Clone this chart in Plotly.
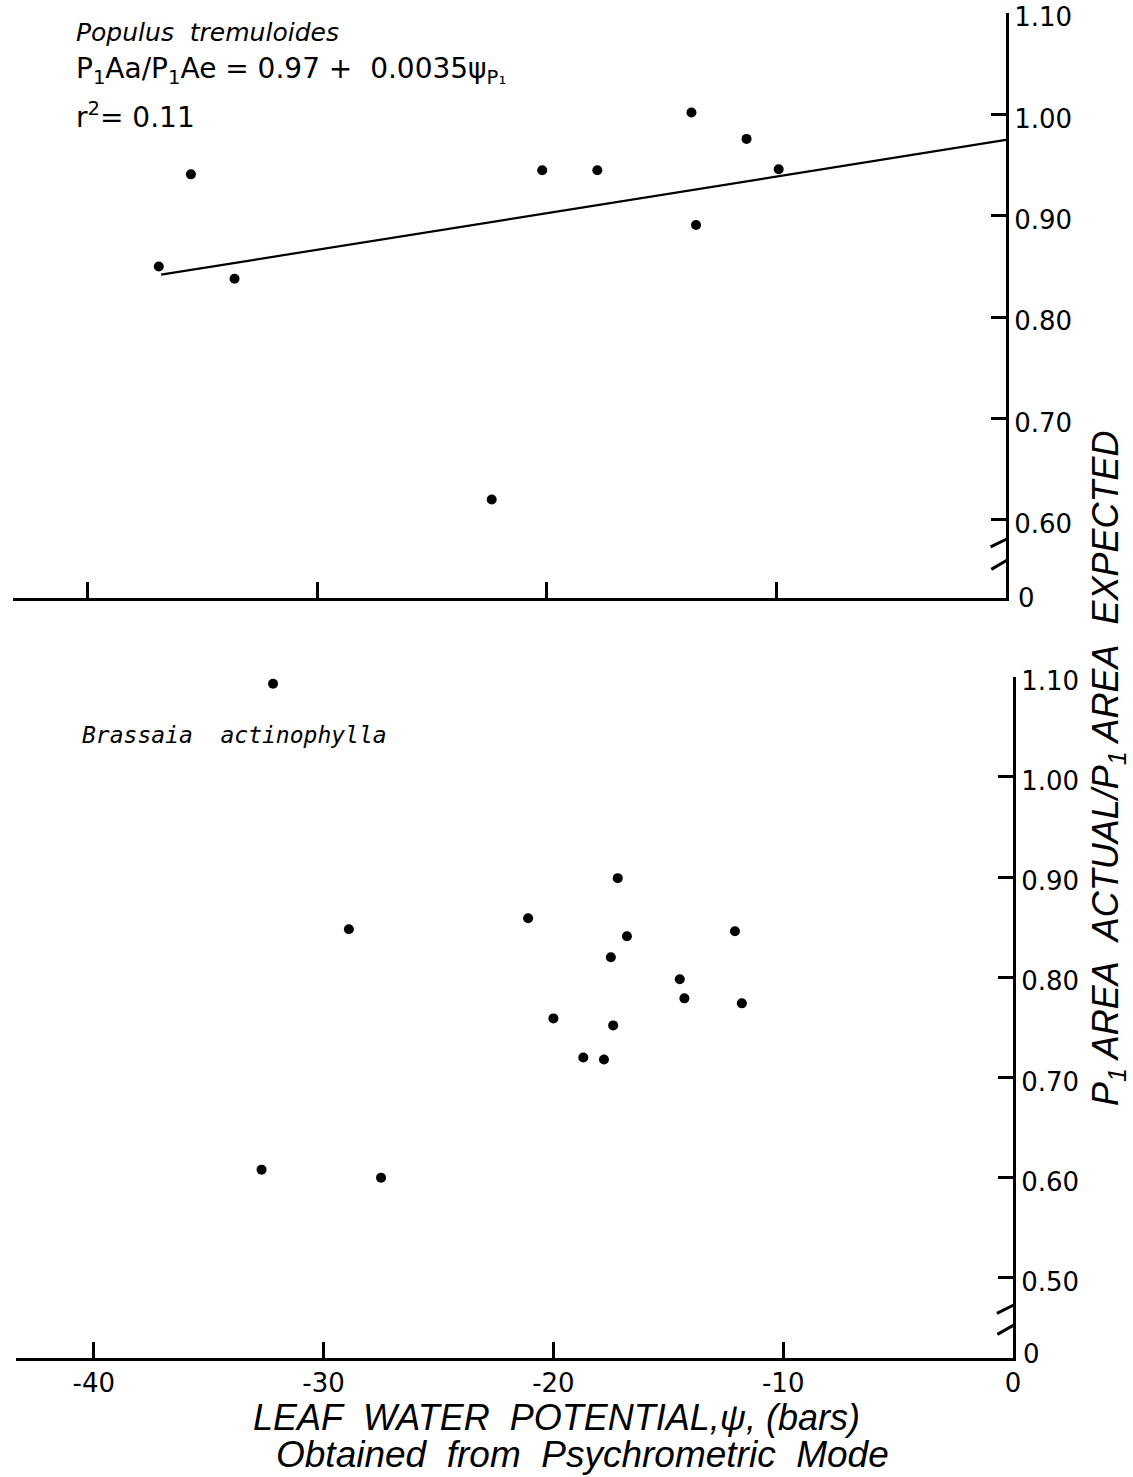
import plotly.graph_objects as go

W, H = 1133, 1477

# ---------------- data ----------------
populus_psi = [-36.9, -35.5, -33.6, -22.4, -20.2, -17.8, -13.7, -13.5, -11.3, -9.9]
populus_ratio = [0.850, 0.941, 0.838, 0.620, 0.945, 0.945, 1.002, 0.891, 0.976, 0.946]

fit_psi = [-36.8, 0.0]
fit_ratio = [0.842, 0.975]

brassaia_psi = [-32.2, -28.9, -21.1, -17.2, -16.8, -17.5, -12.1, -14.5, -14.3, -11.8,
                -20.0, -17.4, -18.7, -17.8, -32.7, -27.5]
brassaia_ratio = [1.093, 0.848, 0.859, 0.899, 0.841, 0.820, 0.846, 0.798, 0.779, 0.774,
                  0.759, 0.752, 0.720, 0.718, 0.608, 0.600]

x_tickvals = [-40, -30, -20, -10, 0]
x_ticktext = ["-40", "-30", "-20", "-10", "0"]
top_tickvals = [0.60, 0.70, 0.80, 0.90, 1.00, 1.10]
top_ticktext = ["0.60", "0.70", "0.80", "0.90", "1.00", "1.10"]
bot_tickvals = [0.50, 0.60, 0.70, 0.80, 0.90, 1.00, 1.10]
bot_ticktext = ["0.50", "0.60", "0.70", "0.80", "0.90", "1.00", "1.10"]

# ---------------- layout geometry (pixels) ----------------
def px(x):
    return x / W

def py(y):
    return 1 - y / H

# top panel
T_left, T_right, T_top, T_bot = 12.5, 1006.0, 13.0, 598.0
T_xscale = 22.96   # px per bar
T_yscale = 1013.0  # px per unit ratio
# bottom panel
B_left, B_right, B_top, B_bot = 16.0, 1013.0, 676.5, 1358.0
B_xscale = 22.98
B_yscale = 1001.7

top_xrange = [-(T_right - T_left) / T_xscale, 0]
top_ymax = 1.10 + 0.3 / T_yscale
top_yrange = [top_ymax - (T_bot - T_top) / T_yscale, top_ymax]
bot_xrange = [-(B_right - B_left) / B_xscale, 0]
bot_ymax = 1.10 + 0.3 / B_yscale
bot_yrange = [bot_ymax - (B_bot - B_top) / B_yscale, bot_ymax]

fig = go.Figure()

marker = dict(color="black", size=10)
fig.add_trace(go.Scatter(x=populus_psi, y=populus_ratio, mode="markers", marker=marker,
                         xaxis="x", yaxis="y", cliponaxis=False, showlegend=False))
fig.add_trace(go.Scatter(x=fit_psi, y=fit_ratio, mode="lines", line=dict(color="black", width=2.2),
                         xaxis="x", yaxis="y", showlegend=False))
fig.add_trace(go.Scatter(x=brassaia_psi, y=brassaia_ratio, mode="markers", marker=marker,
                         xaxis="x2", yaxis="y2", cliponaxis=False, showlegend=False))

tickfont_x = dict(family="DejaVu Sans", size=26, color="black")
tickfont_y = dict(family="DejaVu Sans", size=26, color="black")

common_x = dict(showgrid=False, zeroline=False, showline=True, linecolor="black", linewidth=3,
                ticks="inside", ticklen=16, tickwidth=3, tickcolor="black", fixedrange=True,
                automargin=False, ticklabeloverflow="allow")
common_y = dict(showgrid=False, zeroline=False, showline=True, linecolor="black", linewidth=3,
                ticks="inside", ticklen=15, tickwidth=3, tickcolor="black", side="right",
                tickfont=tickfont_y, fixedrange=True, automargin=False, ticklabeloverflow="allow",
                ticklabelshift=4)

fig.update_layout(
    width=W, height=H, autosize=False,
    margin=dict(l=0, r=0, t=0, b=0, pad=0),
    paper_bgcolor="white", plot_bgcolor="white",
    xaxis=dict(**common_x, domain=[px(T_left), px(T_right)], range=top_xrange, anchor="y",
               tickvals=x_tickvals[:-1], showticklabels=False),
    yaxis=dict(**common_y, domain=[py(T_bot), py(T_top)], range=top_yrange, anchor="x",
               tickvals=top_tickvals, ticktext=top_ticktext),
    xaxis2=dict(**common_x, domain=[px(B_left), px(B_right)], range=bot_xrange, anchor="y2",
                tickvals=x_tickvals, ticktext=x_ticktext, tickfont=tickfont_x),
    yaxis2=dict(**common_y, domain=[py(B_bot), py(B_top)], range=bot_yrange, anchor="x2",
                tickvals=bot_tickvals, ticktext=bot_ticktext),
)

# ---------------- axis breaks ----------------
shapes = []
def add_break(xref, yref, gap, s1, s2):
    shapes.append(dict(type="rect", xref=xref, yref=yref, x0=-0.2, x1=0.2, y0=gap[0], y1=gap[1],
                       fillcolor="white", line=dict(width=0), layer="above"))
    for s in (s1, s2):
        shapes.append(dict(type="line", xref=xref, yref=yref, x0=s[0], y0=s[1], x1=s[2], y1=s[3],
                           line=dict(color="black", width=3), layer="above"))

add_break("x", "y", (0.5597, 0.5807), (-0.67, 0.5732, 0.71, 0.5886), (-0.64, 0.5511, 0.82, 0.5707))
add_break("x2", "y2", (0.4524, 0.4726), (-0.70, 0.4645, 0.81, 0.4818), (-0.68, 0.4435, 0.77, 0.4626))
fig.update_layout(shapes=shapes)

# ---------------- text ----------------
ann = []
def text(x, y, s, size, family="Liberation Sans", style="normal", xanchor="left", angle=0, weight="normal"):
    ann.append(dict(x=px(x), y=py(y), xref="paper", yref="paper", text=s, showarrow=False,
                    xanchor=xanchor, yanchor="middle", textangle=angle,
                    font=dict(family=family, size=size, color="black", style=style, weight=weight)))

text(74, 33, "Populus&nbsp;&nbsp;tremuloides", 25, family="DejaVu Sans", style="italic")
text(74, 70, "P<sub>1</sub>Aa/P<sub>1</sub>Ae = 0.97 +&nbsp;&nbsp;0.0035ψ<sub>P₁</sub>", 28, family="DejaVu Sans")
text(74, 116, "r<sup>2</sup>= 0.11", 28, family="DejaVu Sans")
text(80, 735, "Brassaia&nbsp;&nbsp;actinophylla", 23, family="DejaVu Sans Mono", style="italic")

# "0" labels at the foot of the broken y axes
text(1026, 598, "0", 26, family="DejaVu Sans", xanchor="center")
text(1031, 1354, "0", 26, family="DejaVu Sans", xanchor="center")

# axis titles
text(1108, 768, "P<sub>1</sub> AREA&nbsp;&nbsp;ACTUAL/P<sub>1</sub> AREA&nbsp;&nbsp;EXPECTED", 36,
     style="italic", xanchor="center", angle=-90)
text(556, 1417, "LEAF&nbsp;&nbsp;WATER&nbsp;&nbsp;POTENTIAL,ψ, (bars)", 36, style="italic", xanchor="center")
text(582, 1454, "Obtained&nbsp;&nbsp;from&nbsp;&nbsp;Psychrometric&nbsp;&nbsp;Mode", 37, style="italic", xanchor="center")

fig.update_layout(annotations=ann)

fig.write_html("out.html")
